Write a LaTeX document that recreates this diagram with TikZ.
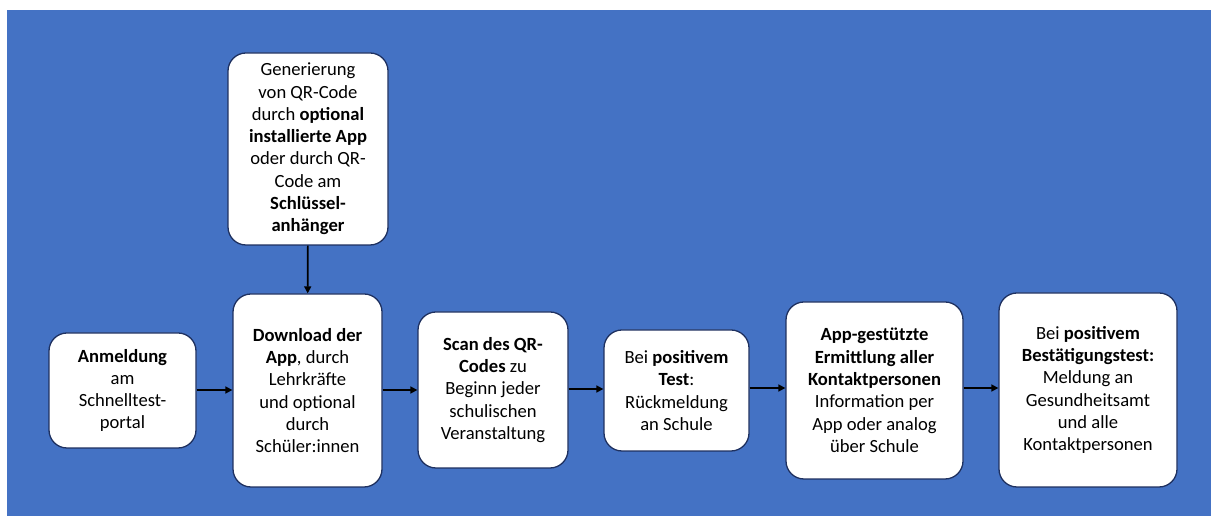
\documentclass[tikz,border=0pt]{standalone}
\usepackage{fontspec}
\setmainfont{Carlito}
\usetikzlibrary{arrows.meta}
\definecolor{bg}{HTML}{4472C4}
\definecolor{edge}{HTML}{1F3160}
\begin{document}
\begin{tikzpicture}[x=1pt,y=1pt,
  stepbox/.style={draw=edge, line width=1.3pt, fill=white, rounded corners=18pt,
    align=center, inner sep=0pt, font=\fontsize{18.6}{22.3}\selectfont},
  flow/.style={line width=1.6pt, -{Triangle[length=7pt,width=7pt]}}]
\useasboundingbox (0,0) rectangle (1211,516);
\fill[bg] (7,0) rectangle (1211,506);
\node[stepbox, minimum width=160pt, minimum height=192pt] (gen) at (308,367)
  {Generierung\\von QR-Code\\durch \textbf{optional}\\\textbf{installierte App}\\oder durch QR-\\Code am\\\textbf{Schlüssel-}\\\textbf{anhänger}};
\node[stepbox, minimum width=147pt, minimum height=115pt] (anm) at (122.5,125.5)
  {\textbf{Anmeldung}\\am\\Schnelltest-\\portal};
\node[stepbox, minimum width=149pt, minimum height=193pt] (dl) at (307.5,125.5)
  {\textbf{Download der}\\\textbf{App}, durch\\Lehrkräfte\\und optional\\durch\\Schüler:innen};
\node[stepbox, minimum width=150pt, minimum height=156pt] (scan) at (493,126)
  {\textbf{Scan des QR-}\\\textbf{Codes} zu\\Beginn jeder\\schulischen\\Veranstaltung};
\node[stepbox, minimum width=145pt, minimum height=121pt] (pos) at (676.5,125.5)
  {Bei \textbf{positivem}\\\textbf{Test}:\\Rückmeldung\\an Schule};
\node[stepbox, minimum width=177pt, minimum height=177pt] (app) at (874.5,125.5)
  {\textbf{App-gestützte}\\\textbf{Ermittlung aller}\\\textbf{Kontaktpersonen}\\Information per\\App oder analog\\über Schule};
\node[stepbox, minimum width=178pt, minimum height=194pt] (best) at (1088,126)
  {Bei \textbf{positivem}\\\textbf{Bestätigungstest:}\\Meldung an\\Gesundheitsamt\\und alle\\Kontaktpersonen};
\draw[flow] (gen) -- (dl);
\draw[flow] (anm.east |- 0,126) -- (dl.west |- 0,126);
\draw[flow] (dl.east |- 0,126) -- (scan.west |- 0,126);
\draw[flow] (scan.east |- 0,127) -- (pos.west |- 0,127);
\draw[flow] (pos.east |- 0,128) -- (app.west |- 0,128);
\draw[flow] (app.east |- 0,128) -- (best.west |- 0,128);
\end{tikzpicture}
\end{document}
